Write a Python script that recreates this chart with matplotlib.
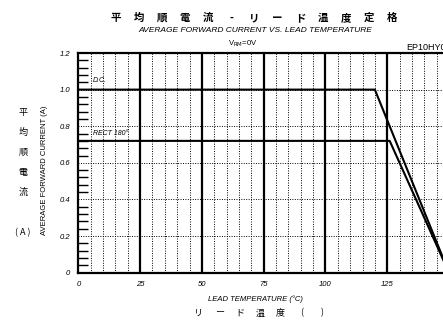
import matplotlib
matplotlib.use("Agg")
import matplotlib.pyplot as plt
import numpy as np

# data
dc_temp = [0, 120, 150]
dc_current = [1.0, 1.0, 0.0]
rect_temp = [0, 126, 150]
rect_current = [0.72, 0.72, 0.0]
x_ticks = [0, 25, 50, 75, 100, 125, 150]
x_tick_labels = ["0", "25", "50", "75", "100", "125", ""]
y_ticks = [0, 0.2, 0.4, 0.6, 0.8, 1.0, 1.2]
y_tick_labels = ["0", "0.2", "0.4", "0.6", "0.8", "1.0", "1.2"]
title_chars = ["平", "均", "順", "電", "流", "-", "リ", "ー", "ド", "温", "度", "定", "格"]
ylabel_chars = ["平", "均", "順", "電", "流"]
xlabel_chars = ["リ", "ー", "ド", "温", "度", "(", ")"]

narrow = ["Liberation Sans Narrow", "Liberation Sans", "DejaVu Sans"]
cjk = ["Noto Sans CJK JP", "DejaVu Sans"]

fig = plt.figure(figsize=(4.43, 3.20), dpi=100)
W, H = 443, 320
x0, x1 = 78.3, 449.0
y0, y1 = 272.7, 53.0
ax = fig.add_axes([x0 / W, 1 - y0 / H, (x1 - x0) / W, (y0 - y1) / H])
ax.set_xlim(0, 150)
ax.set_ylim(0, 1.2)

# grid
for xv in np.arange(5, 150, 5):
    if xv % 25 == 0:
        ax.axvline(xv, color="black", lw=1.6, zorder=2)
    else:
        ax.axvline(xv, color="black", lw=0.7, ls=(0, (1, 1.5)), zorder=1)
for yv in [0.2, 0.4, 0.6, 0.8, 1.0]:
    ax.axhline(yv, color="black", lw=0.7, ls=(0, (1, 1.5)), zorder=1)

ax.plot(dc_temp, dc_current, color="black", lw=1.5, zorder=3)
ax.plot(rect_temp, rect_current, color="black", lw=1.5, zorder=3)

for s in ax.spines.values():
    s.set_linewidth(1.6)

ax.set_xticks(x_ticks)
ax.set_xticklabels(x_tick_labels, fontsize=5.5, style="italic", family=narrow)
ax.set_yticks(y_ticks)
ax.set_yticklabels(y_tick_labels, fontsize=5.5, style="italic", family=narrow)
ax.set_yticks(np.arange(0, 1.2001, 0.04), minor=True)
ax.tick_params(axis="x", length=0, pad=6)
ax.tick_params(axis="y", which="major", length=0, pad=6)
ax.tick_params(axis="y", which="minor", direction="in", length=7, width=1.0)

ax.text(6, 1.04, "D.C.", fontsize=5, style="italic", family=narrow)
ax.text(6, 0.75, "RECT 180°", fontsize=5, style="italic", family=narrow)

for i, ch in enumerate(title_chars):
    fig.text((116 + 23 * i) / W, 1 - 18 / H, ch, ha="center", va="center",
             fontsize=7.5, family=cjk, fontweight="bold")
fig.text(255 / W, 1 - 30 / H, "AVERAGE FORWARD CURRENT VS. LEAD TEMPERATURE", ha="center", va="center",
         fontsize=6, style="italic", family=narrow)
fig.text(243 / W, 1 - 44 / H, r"V$_{\mathrm{RM}}$=0V", ha="center", va="center", fontsize=5.5,
         family=narrow)
fig.text(406 / W, 1 - 48 / H, "EP10HY03", ha="left", va="center", fontsize=6.5, family=narrow)

for i, ch in enumerate(ylabel_chars):
    fig.text(23 / W, 1 - (112 + i * 20) / H, ch, ha="center", va="center", fontsize=6.5, family=cjk)
fig.text(23 / W, 1 - 233 / H, "( A )", ha="center", va="center", fontsize=6.5, family=cjk)
fig.text(45 / W, 1 - 170 / H, "AVERAGE FORWARD CURRENT (A)", rotation=90, ha="center", va="center",
         fontsize=5.5, family=narrow)

fig.text(255 / W, 1 - 299 / H, "LEAD TEMPERATURE (°C)", ha="center", va="center", fontsize=5.5,
         style="italic", family=narrow)
xl_pos = [198, 220, 240, 260, 280, 302, 322]
for ch, xp in zip(xlabel_chars, xl_pos):
    fig.text(xp / W, 1 - 313 / H, ch, ha="center", va="center", fontsize=6.5, family=cjk)

fig.savefig("out.png", dpi=100)
